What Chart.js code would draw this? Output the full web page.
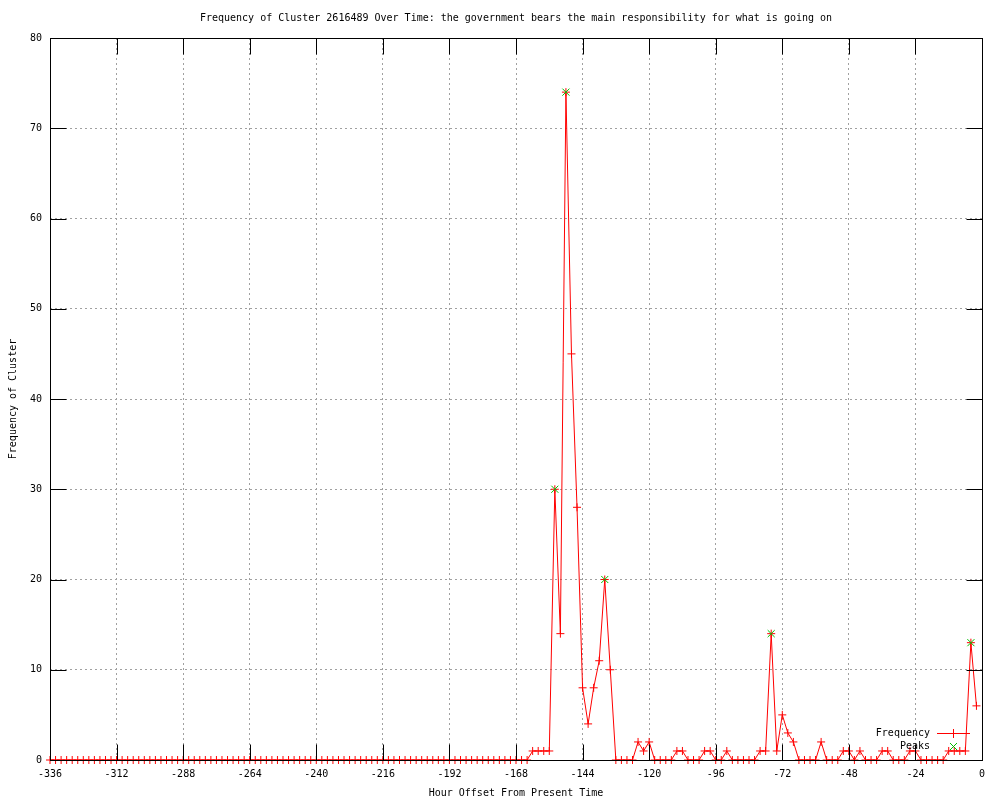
<!DOCTYPE html>
<html>
<head>
<meta charset="utf-8">
<title>Frequency of Cluster 2616489</title>
<script src="https://cdn.jsdelivr.net/npm/chart.js@4.4.0/dist/chart.umd.min.js"></script>
<style>
    html, body { margin: 0; padding: 0; background: #fff; }
    #wrap { width: 1000px; height: 800px; }
</style>
</head>
<body>
<div id="wrap"><canvas id="clusterChart" width="1000" height="800"></canvas></div>
<script>
// hour offsets, one row per 24 hours
const hours = [
    -336, -334, -332, -330, -328, -326, -324, -322, -320, -318, -316, -314,
    -312, -310, -308, -306, -304, -302, -300, -298, -296, -294, -292, -290,
    -288, -286, -284, -282, -280, -278, -276, -274, -272, -270, -268, -266,
    -264, -262, -260, -258, -256, -254, -252, -250, -248, -246, -244, -242,
    -240, -238, -236, -234, -232, -230, -228, -226, -224, -222, -220, -218,
    -216, -214, -212, -210, -208, -206, -204, -202, -200, -198, -196, -194,
    -192, -190, -188, -186, -184, -182, -180, -178, -176, -174, -172, -170,
    -168, -166, -164, -162, -160, -158, -156, -154, -152, -150, -148, -146,
    -144, -142, -140, -138, -136, -134, -132, -130, -128, -126, -124, -122,
    -120, -118, -116, -114, -112, -110, -108, -106, -104, -102, -100, -98,
    -96, -94, -92, -90, -88, -86, -84, -82, -80, -78, -76, -74,
    -72, -70, -68, -66, -64, -62, -60, -58, -56, -54, -52, -50,
    -48, -46, -44, -42, -40, -38, -36, -34, -32, -30, -28, -26,
    -24, -22, -20, -18, -16, -14, -12, -10, -8, -6, -4, -2
];

const frequency = [
    0, 0, 0, 0, 0, 0, 0, 0, 0, 0, 0, 0,
    0, 0, 0, 0, 0, 0, 0, 0, 0, 0, 0, 0,
    0, 0, 0, 0, 0, 0, 0, 0, 0, 0, 0, 0,
    0, 0, 0, 0, 0, 0, 0, 0, 0, 0, 0, 0,
    0, 0, 0, 0, 0, 0, 0, 0, 0, 0, 0, 0,
    0, 0, 0, 0, 0, 0, 0, 0, 0, 0, 0, 0,
    0, 0, 0, 0, 0, 0, 0, 0, 0, 0, 0, 0,
    0, 0, 0, 1, 1, 1, 1, 30, 14, 74, 45, 28,
    8, 4, 8, 11, 20, 10, 0, 0, 0, 0, 2, 1,
    2, 0, 0, 0, 0, 1, 1, 0, 0, 0, 1, 1,
    0, 0, 1, 0, 0, 0, 0, 0, 1, 1, 14, 1,
    5, 3, 2, 0, 0, 0, 0, 2, 0, 0, 0, 1,
    1, 0, 1, 0, 0, 0, 1, 1, 0, 0, 0, 1,
    1, 0, 0, 0, 0, 0, 1, 1, 1, 1, 13, 6
];

const peakHours = [-154, -150, -136, -76, -4];
const peakValues = [30, 74, 20, 14, 13];

const xTicks = [-336, -312, -288, -264, -240, -216, -192, -168, -144, -120, -96, -72, -48, -24, 0];
const yTicks = [0, 10, 20, 30, 40, 50, 60, 70, 80];

const RED = 'rgb(255, 0, 0)';
const GREEN = 'rgb(0, 192, 0)';
const FONT = "'DejaVu Sans Mono', 'Liberation Mono', monospace";

Chart.defaults.font.family = FONT;
Chart.defaults.font.size = 10;
Chart.defaults.color = '#000';

// gnuplot style frame: border, inward ticks on all sides, key at bottom right
const framePlugin = {
    id: 'frame',
    afterDatasetsDraw(chart) {
        const { ctx, chartArea: a, scales } = chart;
        const L = Math.round(a.left) + 0.5;
        const R = Math.round(a.right) + 0.5;
        const T = Math.round(a.top) + 0.5;
        const B = Math.round(a.bottom) + 0.5;
        const tick = 16;

        ctx.save();
        ctx.setLineDash([]);
        ctx.globalAlpha = 1;
        ctx.strokeStyle = '#000';
        ctx.lineWidth = 1;
        ctx.beginPath();
        scales.x.ticks.forEach(t => {
            const px = Math.round(scales.x.getPixelForValue(t.value)) + 0.5;
            ctx.moveTo(px, B); ctx.lineTo(px, B - tick);
            ctx.moveTo(px, T); ctx.lineTo(px, T + tick);
        });
        scales.y.ticks.forEach(t => {
            const py = Math.round(scales.y.getPixelForValue(t.value)) + 0.5;
            ctx.moveTo(L, py); ctx.lineTo(L + tick, py);
            ctx.moveTo(R, py); ctx.lineTo(R - tick, py);
        });
        ctx.stroke();
        ctx.strokeRect(L, T, R - L, B - T);

        // key
        const right = Math.round(a.right);
        const bottom = Math.round(a.bottom);
        const textX = right - 52;
        const sampleX = right - 29;
        const row1 = bottom - 27;
        const row2 = bottom - 14;
        ctx.font = '10px ' + FONT;
        ctx.fillStyle = '#000';
        ctx.textAlign = 'right';
        ctx.textBaseline = 'middle';
        ctx.fillText('Frequency', textX, row1);
        ctx.fillText('Peaks', textX, row2);

        ctx.fillStyle = RED;
        ctx.fillRect(right - 45, row1, 33, 1);
        ctx.fillRect(sampleX, row1 - 4, 1, 9);

        ctx.strokeStyle = GREEN;
        ctx.beginPath();
        ctx.moveTo(sampleX - 3, row2 - 3); ctx.lineTo(sampleX + 4, row2 + 4);
        ctx.moveTo(sampleX + 4, row2 - 3); ctx.lineTo(sampleX - 3, row2 + 4);
        ctx.stroke();
        ctx.restore();
    }
};

const freqPoints = hours.map((h, i) => ({ x: h, y: frequency[i] }));
const peakPoints = peakHours.map((h, i) => ({ x: h, y: peakValues[i] }));

new Chart(document.getElementById('clusterChart'), {
    type: 'scatter',
    data: {
        datasets: [
            {
                label: 'Frequency',
                data: freqPoints,
                showLine: true,
                borderColor: RED,
                borderWidth: 1,
                pointStyle: 'cross',
                pointRadius: 4,
                pointBorderColor: RED,
                pointBorderWidth: 1,
                pointHoverRadius: 4,
                clip: false,
                order: 1
            },
            {
                label: 'Peaks',
                data: peakPoints,
                showLine: false,
                pointStyle: 'crossRot',
                pointRadius: 5,
                pointBorderColor: GREEN,
                pointBorderWidth: 1,
                pointHoverRadius: 5,
                clip: false,
                order: 0
            }
        ]
    },
    options: {
        responsive: false,
        animation: false,
        devicePixelRatio: 1,
        layout: { padding: { left: 0, right: 18, top: 0, bottom: 0 } },
        plugins: {
            legend: { display: false },
            tooltip: { enabled: false },
            title: {
                display: true,
                fullSize: false,
                text: 'Frequency of Cluster 2616489 Over Time: the government bears the main responsibility for what is going on',
                font: { size: 10, weight: 'normal' },
                color: '#000',
                padding: { top: 12, bottom: 14 }
            }
        },
        scales: {
            x: {
                type: 'linear',
                min: -336,
                max: 0,
                afterFit: s => { s.height = 40; },
                afterBuildTicks: s => { s.ticks = xTicks.map(v => ({ value: v })); },
                ticks: { autoSkip: false, maxRotation: 0, padding: 8, color: '#000' },
                grid: { color: '#a0a0a0', drawTicks: false },
                border: { display: false, dash: [2, 3] },
                title: {
                    display: true,
                    text: 'Hour Offset From Present Time',
                    color: '#000',
                    padding: { top: 0, bottom: 1 }
                }
            },
            y: {
                type: 'linear',
                min: 0,
                max: 80,
                afterFit: s => { s.width = 50; },
                afterBuildTicks: s => { s.ticks = yTicks.map(v => ({ value: v })); },
                ticks: { padding: 8, color: '#000' },
                grid: { color: '#a0a0a0', drawTicks: false },
                border: { display: false, dash: [2, 3] },
                title: {
                    display: true,
                    text: 'Frequency of Cluster',
                    color: '#000',
                    padding: { top: 7, bottom: 0 }
                }
            }
        }
    },
    plugins: [framePlugin]
});
</script>
</body>
</html>
